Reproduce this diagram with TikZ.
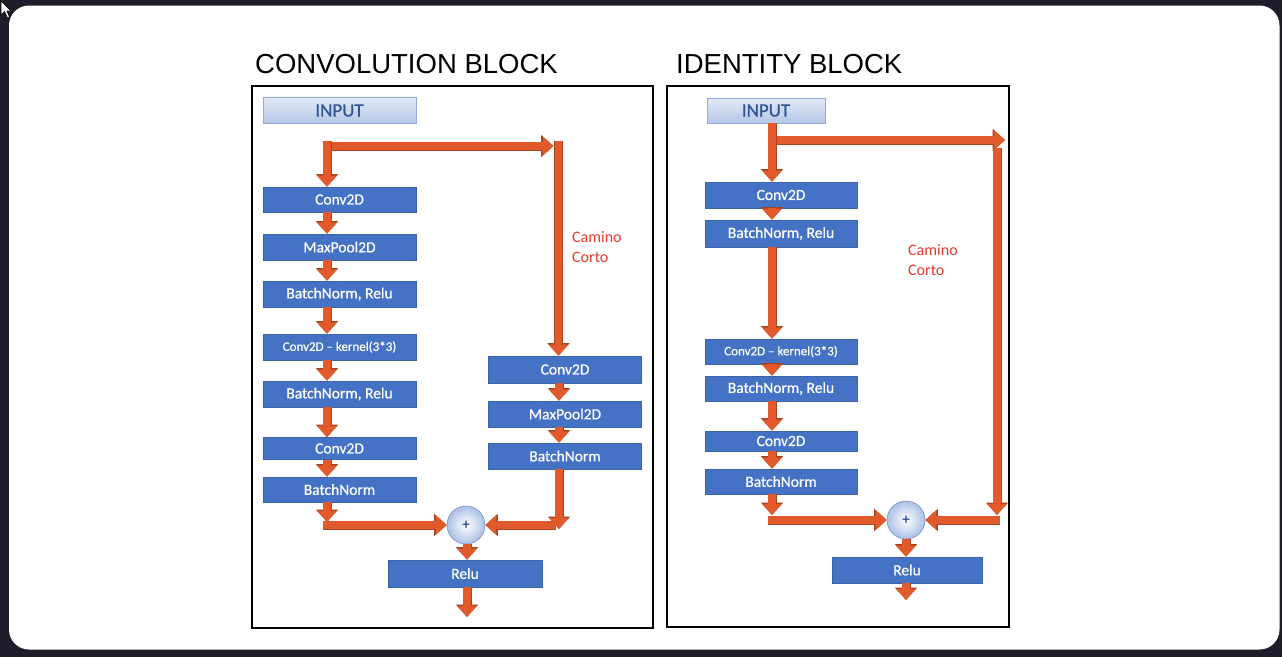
\documentclass[tikz,border=0pt]{standalone}
\usepackage{fontspec}
\setmainfont{Liberation Sans}
\newfontfamily\carlito{Carlito}
\newfontfamily\carlitob{Carlito}[FakeBold=0.6]
\usetikzlibrary{arrows.meta,shapes.geometric}
\definecolor{bgdark}{HTML}{1E1D2B}
\definecolor{boxblue}{HTML}{4472C4}
\definecolor{boxedge}{HTML}{3B63AA}
\definecolor{arrorange}{HTML}{E25A2C}
\definecolor{arrdark}{HTML}{A8441F}
\definecolor{inputtxt}{HTML}{2F5597}
\definecolor{camino}{HTML}{E53A30}
\tikzset{
  blk/.style={rectangle, fill=boxblue, draw=boxedge, line width=0.6pt, text=white,
    minimum width=153pt, minimum height=26pt, inner sep=0pt,
    font=\carlitob\fontsize{15.5}{18}\selectfont},
  blksmall/.style={blk, font=\carlitob\fontsize{13}{15}\selectfont},
  inbox/.style={rectangle, top color=white!85!boxblue, bottom color=boxblue!40,
    draw=boxblue!60, line width=0.6pt, text=inputtxt, minimum height=26pt, inner sep=0pt,
    font=\carlitob\fontsize{19}{22}\selectfont},
  addnode/.style={circle, inner color=white, outer color=boxblue!45, draw=boxedge!70,
    line width=0.6pt, minimum size=38pt, inner sep=0pt, text=inputtxt,
    font=\carlito\bfseries\fontsize{15}{18}\selectfont},
  flow/.style={draw=arrorange, line width=7.5pt, -{Triangle[width=19pt,length=11pt]},
    preaction={draw=arrdark, line width=9pt, -{Triangle[width=21.5pt,length=12.5pt]}}},
  frame/.style={draw=black, line width=2pt},
  title/.style={anchor=base west, inner sep=0pt, font=\fontsize{27.5}{31}\selectfont},
  note/.style={anchor=north west, align=left, text=camino, inner sep=0pt,
    font=\carlito\fontsize{16}{20.5}\selectfont}
}
\begin{document}
\begin{tikzpicture}[x=1pt,y=-1pt]
\useasboundingbox (0,0) rectangle (1282,657);
\fill[bgdark] (0,0) rectangle (1282,657);
\fill[white, rounded corners=20pt] (9,5.5) rectangle (1279.5,649.5);
\fill[white, draw=black, line width=0.6pt] (1,1) -- (1,15) -- (4.5,11.5) -- (7.5,18) -- (9.5,17) -- (6.8,10.8) -- (11,10.8) -- cycle;

% titles
\node[title] (t1) at (255,73) {CONVOLUTION BLOCK};
\node[title] (t2) at (676,73) {IDENTITY BLOCK};

% frames
\draw[frame] (252,86) rectangle (653,627.5);
\draw[frame] (666.5,86) rectangle (1008.5,627);

% ===== Convolution block =====
\node[inbox, minimum width=153pt] (li) at (339.5,110.5) {INPUT};
\node[blk, minimum height=25pt] (lc1) at (339.5,199.5) {Conv2D};
\node[blk] (lc2) at (339.5,247) {MaxPool2D};
\node[blk] (lc3) at (339.5,294) {BatchNorm, Relu};
\node[blksmall] (lc4) at (339.5,347) {Conv2D – kernel(3*3)};
\node[blk] (lc5) at (339.5,394) {BatchNorm, Relu};
\node[blk, minimum height=22pt] (lc6) at (339.5,448.5) {Conv2D};
\node[blk, minimum height=25pt] (lc7) at (339.5,489.5) {BatchNorm};

\node[blk, minimum height=27pt] (rc1) at (565,369.5) {Conv2D};
\node[blk] (rc2) at (565,414) {MaxPool2D};
\node[blk] (rc3) at (565,456) {BatchNorm};

\node[addnode] (lp) at (466,525) {+};
\node[blk, minimum width=154pt, minimum height=27pt] (lr) at (465,573.5) {Relu};

\node[note] (lnote) at (572,231) {Camino\\Corto};

\coordinate (lsplit) at (327,141);
\coordinate (lbar0) at (322.5,146);
\coordinate (lbar1) at (553.5,146);
\coordinate (lsc) at (558.5,141);
\coordinate (ljoinL) at (327,522);
\coordinate (lhL) at (323,525);
\coordinate (ljoinR) at (559,529);
\coordinate (lhR) at (556,525);
\coordinate (lout) at (467,617);

\draw[flow] (lbar0) -- (lbar1);
\draw[flow] (lsplit) -- (lsplit |- lc1.north);
\draw[flow] (lsc) -- (lsc |- rc1.north);
\foreach \a/\b in {lc1/lc2,lc2/lc3,lc3/lc4,lc4/lc5,lc5/lc6,lc6/lc7}
  \draw[flow] (lsplit |- \a.south) -- (lsplit |- \b.north);
\draw[flow] (lsplit |- lc7.south) -- (ljoinL);
\draw[flow] (lhL) -- (lp.west);
\foreach \a/\b in {rc1/rc2,rc2/rc3}
  \draw[flow] (ljoinR |- \a.south) -- (ljoinR |- \b.north);
\draw[flow] (ljoinR |- rc3.south) -- (ljoinR);
\draw[flow] (lhR) -- (lp.east);
\draw[flow] (lout |- lp.south) -- (lout |- lr.north);
\draw[flow] (lout |- lr.south) -- (lout);

% ===== Identity block =====
\node[inbox, minimum width=118pt, minimum height=25pt] (ri) at (766,110.5) {INPUT};
\node[blk, minimum width=152pt] (r1) at (781,195) {Conv2D};
\node[blk, minimum width=152pt, minimum height=27pt] (r2) at (781,233.5) {BatchNorm, Relu};
\node[blksmall, minimum width=152pt, minimum height=25pt] (r3) at (781,351.5) {Conv2D – kernel(3*3)};
\node[blk, minimum width=152pt, minimum height=25pt] (r4) at (781,388.5) {BatchNorm, Relu};
\node[blk, minimum width=152pt, minimum height=20pt] (r5) at (781,441) {Conv2D};
\node[blk, minimum width=152pt, minimum height=25pt] (r6) at (781,481.5) {BatchNorm};

\node[addnode] (rp) at (906,520) {+};
\node[blk, minimum width=150pt] (rr) at (907,570) {Relu};

\node[note] (rnote) at (908,244) {Camino\\Corto};

\coordinate (rx) at (772,140);
\coordinate (rbar1) at (1005,140);
\coordinate (rsc) at (997,148);
\coordinate (rscend) at (997,515);
\coordinate (rjoinL) at (772,515);
\coordinate (rhL) at (768,520);
\coordinate (rhR) at (999.5,520);
\coordinate (rout) at (906,600);

\draw[flow] (rx) -- (rbar1);
\draw[flow] (rx |- ri.south) -- (rx |- r1.north);
\draw[flow] (rsc) -- (rscend);
\foreach \a/\b in {r1/r2,r2/r3,r3/r4,r4/r5,r5/r6}
  \draw[flow] (rx |- \a.south) -- (rx |- \b.north);
\draw[flow] (rx |- r6.south) -- (rjoinL);
\draw[flow] (rhL) -- (rp.west);
\draw[flow] (rhR) -- (rp.east);
\draw[flow] (rout |- rp.south) -- (rout |- rr.north);
\draw[flow] (rout |- rr.south) -- (rout);
\end{tikzpicture}
\end{document}
